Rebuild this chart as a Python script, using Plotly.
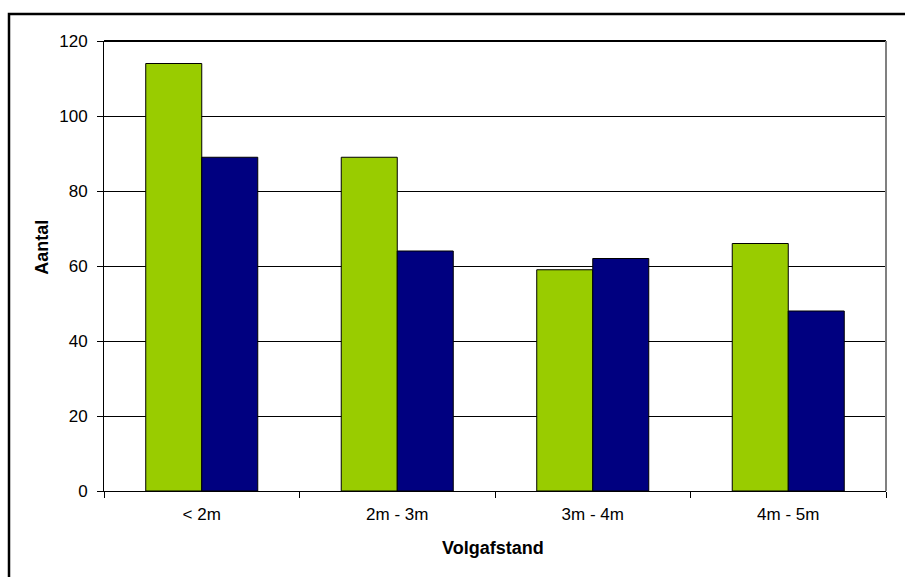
import plotly.graph_objects as go

categories = ["< 2m", "2m - 3m", "3m - 4m", "4m - 5m"]
series_green = [114, 89, 59, 66]
series_navy = [89, 64, 62, 48]
y_ticks = [0, 20, 40, 60, 80, 100, 120]

W, H = 905, 577
L, R, T, B = 104, 886, 41, 491
pw, ph = R - L, B - T

def px_x(x):
    return (x - L) / pw

def px_y(y):
    return (B - y) / ph

fig = go.Figure()
fig.add_trace(go.Bar(x=categories, y=series_green, marker=dict(color="#99CC00", line=dict(color="#000000", width=1)), name="A"))
fig.add_trace(go.Bar(x=categories, y=series_navy, marker=dict(color="#000080", line=dict(color="#000000", width=1)), name="B"))

font = "Liberation Sans, Arial, sans-serif"
fig.update_layout(
    width=W, height=H,
    margin=dict(l=L, r=W - R, t=T, b=H - B),
    paper_bgcolor="white", plot_bgcolor="white",
    barmode="group", bargap=0.427, bargroupgap=0,
    showlegend=False,
    font=dict(family=font, size=17, color="black"),
    xaxis=dict(
        type="category", tickson="boundaries", ticks="outside", ticklen=6,
        tickcolor="black", showline=True, linecolor="black", linewidth=1,
        showgrid=False, ticklabelstandoff=8,
        tickfont=dict(family=font, size=17, color="black"),
    ),
    yaxis=dict(
        range=[0, 120], tickvals=y_ticks, ticks="outside", ticklen=6,
        tickcolor="black", showline=True, linecolor="black", linewidth=1,
        showgrid=True, gridcolor="black", gridwidth=1, zeroline=False,
        ticklabelstandoff=6,
        tickfont=dict(family=font, size=17, color="black"),
    ),
)

# axis titles
fig.add_annotation(text="<b>Aantal</b>", xref="paper", yref="paper",
                   x=px_x(41.7), y=px_y(247), textangle=-90, showarrow=False,
                   xanchor="center", yanchor="middle",
                   font=dict(family=font, size=18, color="black"))
fig.add_annotation(text="<b>Volgafstand</b>", xref="paper", yref="paper",
                   x=px_x(492.5), y=px_y(548), showarrow=False,
                   xanchor="center", yanchor="middle",
                   font=dict(family=font, size=18, color="black"))

# plot area top and right borders
fig.add_shape(type="line", xref="paper", yref="paper", x0=0, x1=1, y0=1, y1=1,
              line=dict(color="black", width=2))
fig.add_shape(type="line", xref="paper", yref="paper", x0=1, x1=1, y0=0, y1=1,
              line=dict(color="#808080", width=2))

# outer chart frame
fig.add_shape(type="rect", xref="paper", yref="paper",
              x0=px_x(9), x1=px_x(W + 20), y0=px_y(H + 20), y1=px_y(14),
              line=dict(color="black", width=2.5), fillcolor="rgba(0,0,0,0)")

fig.write_html("out.html")
